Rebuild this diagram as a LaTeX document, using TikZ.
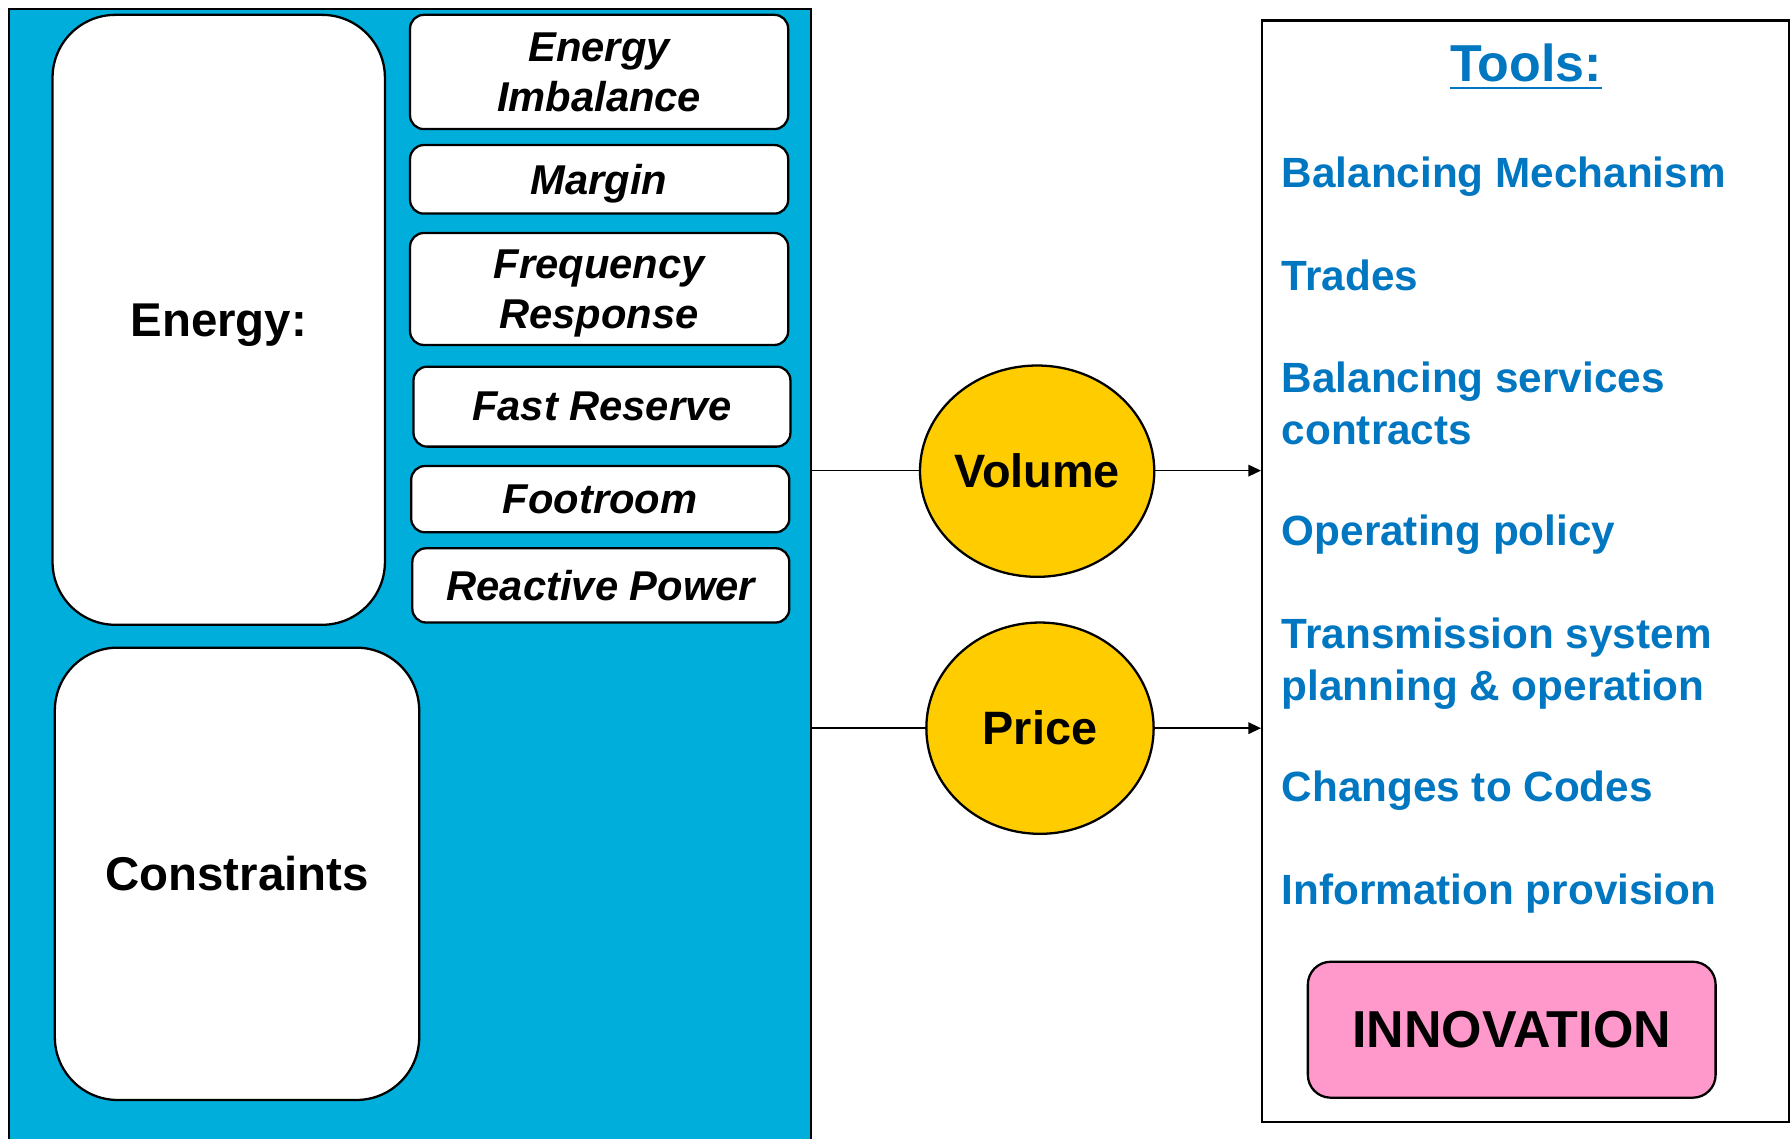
\documentclass[tikz,border=0pt]{standalone}
\usepackage{fontspec}
\setmainfont{Liberation Sans}
\usetikzlibrary{shapes.geometric,arrows.meta}
\definecolor{panelblue}{RGB}{0,174,219}
\definecolor{tooltext}{RGB}{0,119,192}
\definecolor{goldfill}{RGB}{255,204,0}
\definecolor{pinkfill}{RGB}{255,153,204}
\begin{document}
\begin{tikzpicture}[x=1pt,y=-1pt,
 bigbox/.style={draw=black,fill=white,line width=2pt,rounded corners=55pt,inner sep=0pt,text depth=0pt,font=\fontsize{41.5}{48}\selectfont\bfseries},
 smallbox/.style={draw=black,fill=white,line width=2pt,rounded corners=12pt,minimum width=331pt,inner sep=0pt,text depth=0pt,align=center,font=\fontsize{36.5}{44}\selectfont\bfseries\itshape},
 ellip/.style={ellipse,draw=black,fill=goldfill,line width=2pt,inner sep=0pt,font=\fontsize{41}{48}\selectfont\bfseries},
 toolitem/.style={anchor=base west,inner sep=0pt,align=left,text=tooltext,font=\fontsize{37}{45}\selectfont\bfseries},
 conn/.style={line width=1.5pt},
 ]
\useasboundingbox[fill=white] (0,0) rectangle (1568,997);
% left panel
\fill[panelblue] (8,8) rectangle (710,997);
\draw[line width=2pt] (8,997) -- (8,8) -- (710,8) -- (710,997);
\node[bigbox,minimum width=291pt,minimum height=534pt] (energy) at (191.5,280) {Energy:};
\node[bigbox,minimum width=319pt,minimum height=396pt] (constr) at (207.5,765) {Constraints};
\node[smallbox,minimum height=100pt] (ei) at (524.5,63) {Energy\\Imbalance};
\node[smallbox,minimum height=60pt] (margin) at (524.5,157) {Margin};
\node[smallbox,minimum height=98pt] (fr) at (524.5,253) {Frequency\\Response};
\node[smallbox,minimum width=330pt,minimum height=70pt] (fast) at (527,356) {Fast Reserve};
\node[smallbox,minimum height=58pt] (foot) at (525.5,437) {Footroom};
\node[smallbox,minimum width=330pt,minimum height=65pt] (react) at (526,512.5) {Reactive Power};
% ellipses
\node[ellip,minimum width=200pt,minimum height=185pt] (vol) at (908,412.5) {Volume};
\node[ellip,minimum width=199pt,minimum height=185pt] (price) at (910.5,637.5) {Price};
% tools box
\node[draw=black,line width=2pt,minimum width=461pt,minimum height=964pt,inner sep=0pt] (tools) at (1335.5,500) {};
\node[anchor=base,inner sep=0pt,text=tooltext,font=\fontsize{45.5}{50}\selectfont\bfseries] (ttl) at (1336,71) {Tools:};
\draw[tooltext,line width=2.5pt] ([yshift=-6pt]ttl.base west) -- ([yshift=-6pt]ttl.base east);
\node[toolitem] (t1) at (1122,164) {Balancing Mechanism};
\node[toolitem] (t2) at (1122,254) {Trades};
\node[toolitem] (t3) at (1122,389) {Balancing services\\contracts};
\node[toolitem] (t4) at (1122,478) {Operating policy};
\node[toolitem] (t5) at (1122,613) {Transmission system\\planning \& operation};
\node[toolitem] (t6) at (1122,702) {Changes to Codes};
\node[toolitem] (t7) at (1122,792) {Information provision};
\node[draw=black,fill=pinkfill,line width=2pt,rounded corners=20pt,minimum width=357pt,minimum height=119pt,inner sep=0pt,font=\fontsize{45.5}{50}\selectfont\bfseries] (innov) at (1323.5,901.5) {INNOVATION};
% connectors
\coordinate (vin) at (710,412);
\coordinate (pin) at (710,637.5);
\draw[conn] (vin) -- (vin -| vol.west);
\draw[conn,-{Triangle[length=11pt,width=10pt]}] (vin -| vol.east) -- (vin -| tools.west);
\draw[conn] (pin) -- (pin -| price.west);
\draw[conn,-{Triangle[length=11pt,width=10pt]}] (pin -| price.east) -- (pin -| tools.west);
\end{tikzpicture}
\end{document}
